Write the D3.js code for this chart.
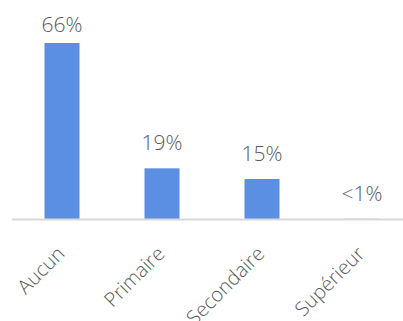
<!DOCTYPE html>
<html lang="fr">
<head>
<meta charset="UTF-8">
<style>
    body { margin: 0; background: #fff; }
    svg { display: block; }
    text { font-family: "Open Sans", sans-serif; font-weight: 300; fill: #595959; }
</style>
</head>
<body>
<div id="chart"></div>
<script src="https://d3js.org/d3.v7.min.js"></script>
<script>
    const categories = ["Aucun", "Primaire", "Secondaire", "Supérieur"];
    const values = [66, 19, 15, 0.1];
    const valueLabels = ["66%", "19%", "15%", "<1%"];

    const width = 403, height = 321;
    const baseY = 219;

    const svg = d3.select("#chart").append("svg")
        .attr("width", width)
        .attr("height", height);

    const x = d3.scaleBand()
        .domain(categories)
        .range([12, 412])
        .paddingInner(0.65)
        .paddingOuter(0.325);

    const y = d3.scaleLinear()
        .domain([0, 66])
        .range([baseY, 43]);

    // bars
    svg.append("g")
        .selectAll("rect")
        .data(values)
        .enter()
        .append("rect")
        .attr("x", (d, i) => x(categories[i]))
        .attr("y", d => y(d))
        .attr("width", x.bandwidth())
        .attr("height", d => baseY - y(d))
        .attr("fill", "#5B8FE3");

    // axis line (drawn over the bars' feet)
    svg.append("line")
        .attr("x1", 12).attr("x2", width)
        .attr("y1", baseY + 0.5).attr("y2", baseY + 0.5)
        .attr("stroke", "#d9d9d9")
        .attr("stroke-width", 2);

    // value labels
    svg.append("g")
        .selectAll("text")
        .data(values)
        .enter()
        .append("text")
        .attr("x", (d, i) => x(categories[i]) + x.bandwidth() / 2)
        .attr("y", d => Math.max(y(d) - 18, 32))
        .attr("text-anchor", "middle")
        .attr("font-size", 21)
        .text((d, i) => valueLabels[i]);

    // category labels, rotated
    svg.append("g")
        .selectAll("text")
        .data(categories)
        .enter()
        .append("text")
        .attr("transform", d => `translate(${x(d) + x.bandwidth() / 2 - 6},${baseY + 26}) rotate(-45)`)
        .attr("text-anchor", "end")
        .attr("dy", "0.7em")
        .attr("font-size", 20)
        .text(d => d);
</script>
</body>
</html>
